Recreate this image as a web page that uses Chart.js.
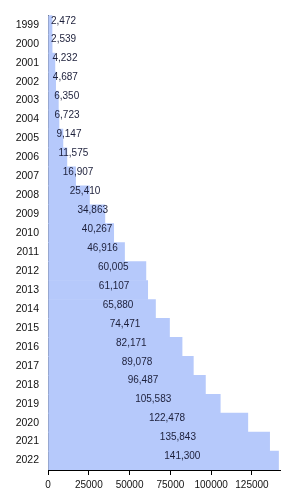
<!DOCTYPE html>
<html>
<head>
<meta charset="utf-8">
<script src="https://cdn.jsdelivr.net/npm/chart.js@4"></script>
<style>
  html, body { margin: 0; padding: 0; background: #fff; }
  #wrap { width: 290px; height: 491px; }
</style>
</head>
<body>
<div id="wrap"><canvas id="chart"></canvas></div>
<script>
const years = ["1999", "2000", "2001", "2002", "2003", "2004", "2005", "2006", "2007", "2008", "2009", "2010",
  "2011", "2012", "2013", "2014", "2015", "2016", "2017", "2018", "2019", "2020", "2021", "2022"];
const counts = [2472, 2539, 4232, 4687, 6350, 6723, 9147, 11575, 16907, 25410, 34863, 40267,
  46916, 60005, 61107, 65880, 74471, 82171, 89078, 96487, 105583, 122478, 135843, 141300];
const xTicks = [0, 25000, 50000, 75000, 100000, 125000];

// value labels sit at half the bar length, slightly above the bar centre
const halfLabels = {
  id: "halfLabels",
  afterDatasetsDraw(chart) {
    const ctx = chart.ctx;
    const x = chart.scales.x;
    const meta = chart.getDatasetMeta(0);
    ctx.save();
    ctx.font = "10px 'Liberation Sans', Arial, sans-serif";
    ctx.fillStyle = "#1c1f3a";
    ctx.textAlign = "left";
    ctx.textBaseline = "middle";
    meta.data.forEach((bar, i) => {
      const v = counts[i];
      ctx.fillText(v.toLocaleString("en-US"), x.getPixelForValue(v / 2) + 1, bar.y - 4);
    });
    ctx.restore();
  }
};

new Chart(document.getElementById("chart"), {
  type: "bar",
  data: {
    labels: years,
    datasets: [{
      data: counts,
      backgroundColor: "#b6c9fb",
      borderWidth: 0,
      barPercentage: 1,
      categoryPercentage: 1
    }]
  },
  options: {
    indexAxis: "y",
    responsive: true,
    maintainAspectRatio: false,
    animation: false,
    layout: { padding: { top: 11, right: 10, left: 0, bottom: 0 } },
    plugins: { legend: { display: false }, tooltip: { enabled: false } },
    scales: {
      x: {
        min: 0,
        max: 142200,
        afterBuildTicks: (s) => { s.ticks = xTicks.map(v => ({ value: v })); },
        afterFit: (s) => { s.height = 21; },
        ticks: {
          callback: (v) => String(v),
          color: "#111",
          font: { family: "'Liberation Sans', Arial, sans-serif", size: 10 },
          padding: 4,
          maxRotation: 0
        },
        grid: { drawOnChartArea: false, drawTicks: true, tickLength: 5, color: "#000" },
        border: { color: "#000", width: 1 }
      },
      y: {
        afterFit: (s) => { s.width = 48; },
        ticks: {
          color: "#111",
          font: { family: "'Liberation Sans', Arial, sans-serif", size: 10.5 },
          padding: 9,
          autoSkip: false
        },
        grid: { display: false, drawTicks: false },
        border: { color: "#000", width: 1 }
      }
    }
  },
  plugins: [halfLabels]
});
</script>
</body>
</html>
